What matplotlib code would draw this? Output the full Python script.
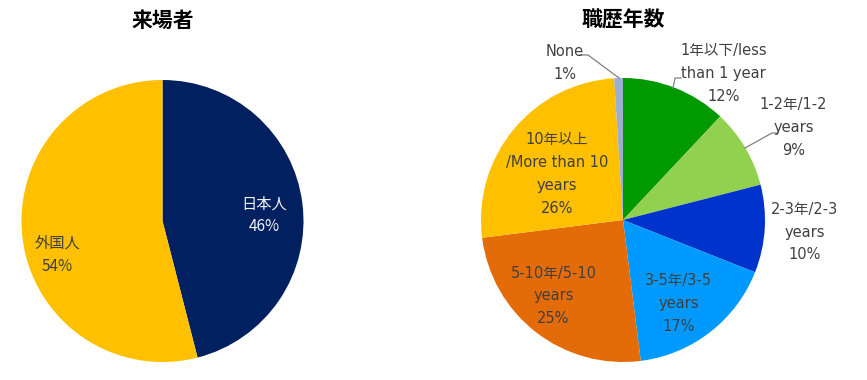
import matplotlib
matplotlib.use("Agg")
import matplotlib.pyplot as plt

plt.rcParams['font.family'] = ['Noto Sans CJK JP', 'DejaVu Sans']

# Data
visitor_labels = ["日本人", "外国人"]
visitor_values = [46, 54]
visitor_colors = ["#002060", "#FFC000"]

career_labels = ["1年以下/less\nthan 1 year", "1-2年/1-2\nyears", "2-3年/2-3\nyears",
                 "3-5年/3-5\nyears", "5-10年/5-10\nyears", "10年以上\n/More than 10\nyears", "None"]
career_values = [12, 9, 10, 17, 25, 26, 1]
career_colors = ["#009900", "#92D050", "#0033CC", "#0099FF", "#E36C09", "#FFC000", "#9DAECF"]

W, H = 867, 380
fig = plt.figure(figsize=(W / 100, H / 100), dpi=100)


def axes_at(cx, cy, r):
    ax = fig.add_axes([(cx - r) / W, (H - cy - r) / H, 2 * r / W, 2 * r / H])
    ax.set_xlim(-1, 1)
    ax.set_ylim(-1, 1)
    ax.set_aspect('equal')
    ax.axis('off')
    return ax


# Left pie
ax1 = axes_at(162.5, 221, 141)
ax1.pie(visitor_values, colors=visitor_colors, startangle=90, counterclock=False,
        radius=1, wedgeprops=dict(linewidth=0))
ax1.set_xlim(-1, 1)
ax1.set_ylim(-1, 1)
left_pos = [(0.72, 0.04), (-0.745, -0.24)]
left_tc = ["#F2F2F2", "#404040"]
for lab, v, (x, y), c in zip(visitor_labels, visitor_values, left_pos, left_tc):
    ax1.text(x, y, f"{lab}\n{v}%", ha='center', va='center', fontsize=11,
             color=c, linespacing=1.45)
fig.text(162.5 / W, 1 - 20 / H, "来場者", ha='center', va='center',
         fontsize=15, fontweight='bold', color='black')

# Right pie
ax2 = axes_at(623, 220, 142)
ax2.pie(career_values, colors=career_colors, startangle=90, counterclock=False,
        radius=1, wedgeprops=dict(linewidth=0))
ax2.set_xlim(-1, 1)
ax2.set_ylim(-1, 1)
right_pos = [(0.71, 1.03), (1.20, 0.65), (1.28, -0.085), (0.39, -0.59),
             (-0.49, -0.535), (-0.465, 0.325), (-0.41, 1.105)]
for lab, v, (x, y) in zip(career_labels, career_values, right_pos):
    ax2.text(x, y, f"{lab}\n{v}%", ha='center', va='center', fontsize=10.5,
             family=['DejaVu Sans', 'Noto Sans CJK JP'],
             color='#404040', linespacing=1.65, clip_on=False)

# leader lines (in pixel-relative units)
def px(x, y, cx=623, cy=220, r=142):
    return ((x - cx) / r, (cy - y) / r)

leaders = [
    [px(580, 55), px(588, 55), px(619, 78)],
    [px(681, 78), px(675, 78), px(673, 88)],
    [px(778, 133), px(772, 133), px(745, 148)],
]
for pts in leaders:
    xs, ys = zip(*pts)
    ax2.plot(xs, ys, color='#808080', linewidth=0.9, clip_on=False)

fig.text(623 / W, 1 - 20 / H, "職歴年数", ha='center', va='center',
         fontsize=15, fontweight='bold', color='black')

fig.savefig("out.png", dpi=100, facecolor='white')
